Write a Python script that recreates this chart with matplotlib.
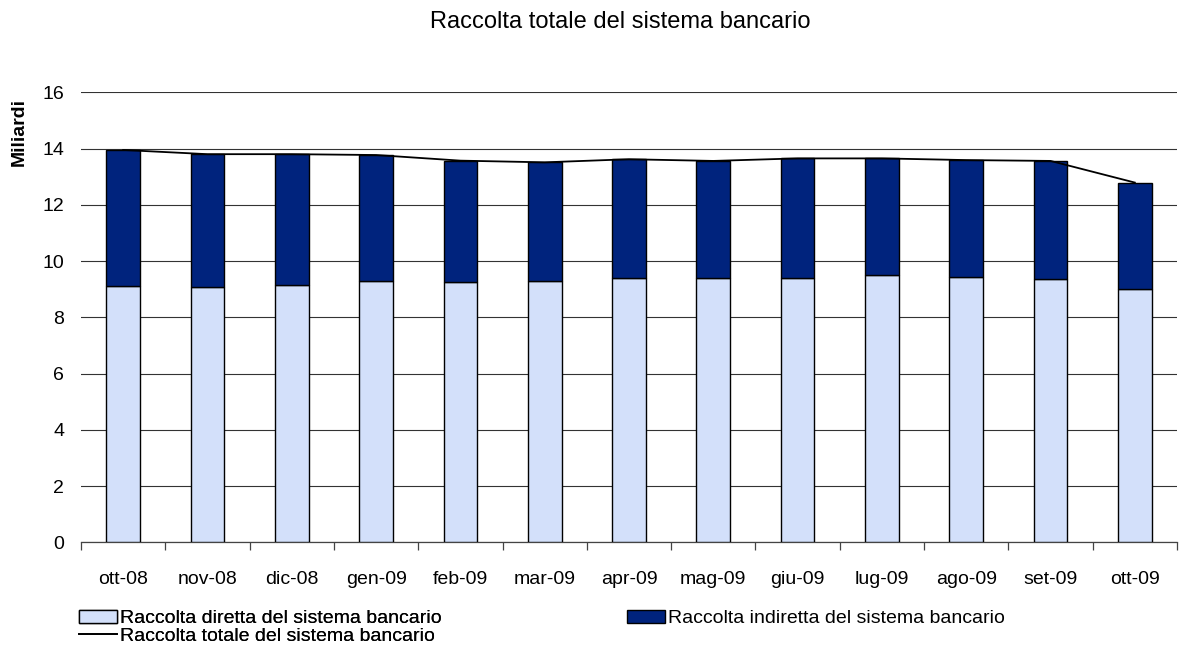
import matplotlib
matplotlib.use("Agg")
import matplotlib.pyplot as plt
import numpy as np
from matplotlib.patches import Patch
from matplotlib.lines import Line2D

plt.rcParams['font.family'] = ['Liberation Sans', 'DejaVu Sans']

categories = ["ott-08", "nov-08", "dic-08", "gen-09", "feb-09", "mar-09", "apr-09",
              "mag-09", "giu-09", "lug-09", "ago-09", "set-09", "ott-09"]
diretta = [9.12, 9.08, 9.16, 9.29, 9.24, 9.29, 9.40, 9.40, 9.40, 9.50, 9.43, 9.37, 9.01]
totale = [13.95, 13.80, 13.80, 13.77, 13.57, 13.51, 13.62, 13.56, 13.65, 13.65, 13.59, 13.56, 12.79]
indiretta = [t - d for t, d in zip(totale, diretta)]

title = "Raccolta totale del sistema bancario"
ylabel = "Miliardi"
lab_dir = "Raccolta diretta del sistema bancario"
lab_ind = "Raccolta indiretta del sistema bancario"
lab_tot = "Raccolta totale del sistema bancario"

c_light = "#D3E0FA"
c_dark = "#00237D"

fig = plt.figure(figsize=(11.8, 6.48), dpi=100)
W, H = 1180, 648
ax = fig.add_axes([81 / W, 1 - 542.3 / H, (1177 - 81) / W, (542.3 - 92.3) / H])

x = np.arange(len(categories))
ax.bar(x, diretta, width=0.4, color=c_light, edgecolor="black", linewidth=1.0, zorder=3)
ax.bar(x, indiretta, width=0.4, bottom=diretta, color=c_dark, edgecolor="black",
       linewidth=1.0, zorder=3)
ax.plot(x, totale, color="black", linewidth=1.3, zorder=4)

ax.set_xlim(-0.5, len(categories) - 0.5)
ax.set_ylim(0, 16)
ax.set_yticks(np.arange(0, 17, 2))
ax.yaxis.grid(True, color="#333333", linewidth=0.8, zorder=0)
ax.set_axisbelow(True)

for s in ["top", "right", "left"]:
    ax.spines[s].set_visible(False)
ax.spines["bottom"].set_color("#444444")
ax.spines["bottom"].set_linewidth(0.9)

ax.set_xticks(x)
ax.set_xticklabels(categories, fontsize=14)
ax.set_xticks(np.arange(-0.5, len(categories), 1.0), minor=True)
ax.tick_params(axis="x", which="major", length=0, pad=21)
ax.tick_params(axis="x", which="minor", length=6, width=0.9, color="#444444", direction="out")
ax.tick_params(axis="y", length=0, pad=12, labelsize=14)

fig.text(620 / W, 1 - 22 / H, title, ha="center", va="center", fontsize=17)
fig.text(19 / W, 1 - 132 / H, ylabel, rotation=90, ha="center", va="center",
         fontsize=14, fontweight="bold")

h_dir = Patch(facecolor=c_light, edgecolor="black", linewidth=1.0)
h_ind = Patch(facecolor=c_dark, edgecolor="black", linewidth=1.0)
h_tot = Line2D([0], [0], color="black", linewidth=1.3)

common = dict(loc="upper left", frameon=False, fontsize=14, handlelength=1.95,
              handleheight=0.65, handletextpad=0.15, labelspacing=0.0,
              borderpad=0, borderaxespad=0)
leg1 = fig.legend([h_dir, h_tot], [lab_dir, lab_tot],
                  bbox_to_anchor=(79 / W, 1 - 610 / H), **common)
leg2 = fig.legend([h_ind], [lab_ind],
                  bbox_to_anchor=(627 / W, 1 - 610 / H), **common)
fig.add_artist(leg1)

fig.savefig("out.png", dpi=100)
